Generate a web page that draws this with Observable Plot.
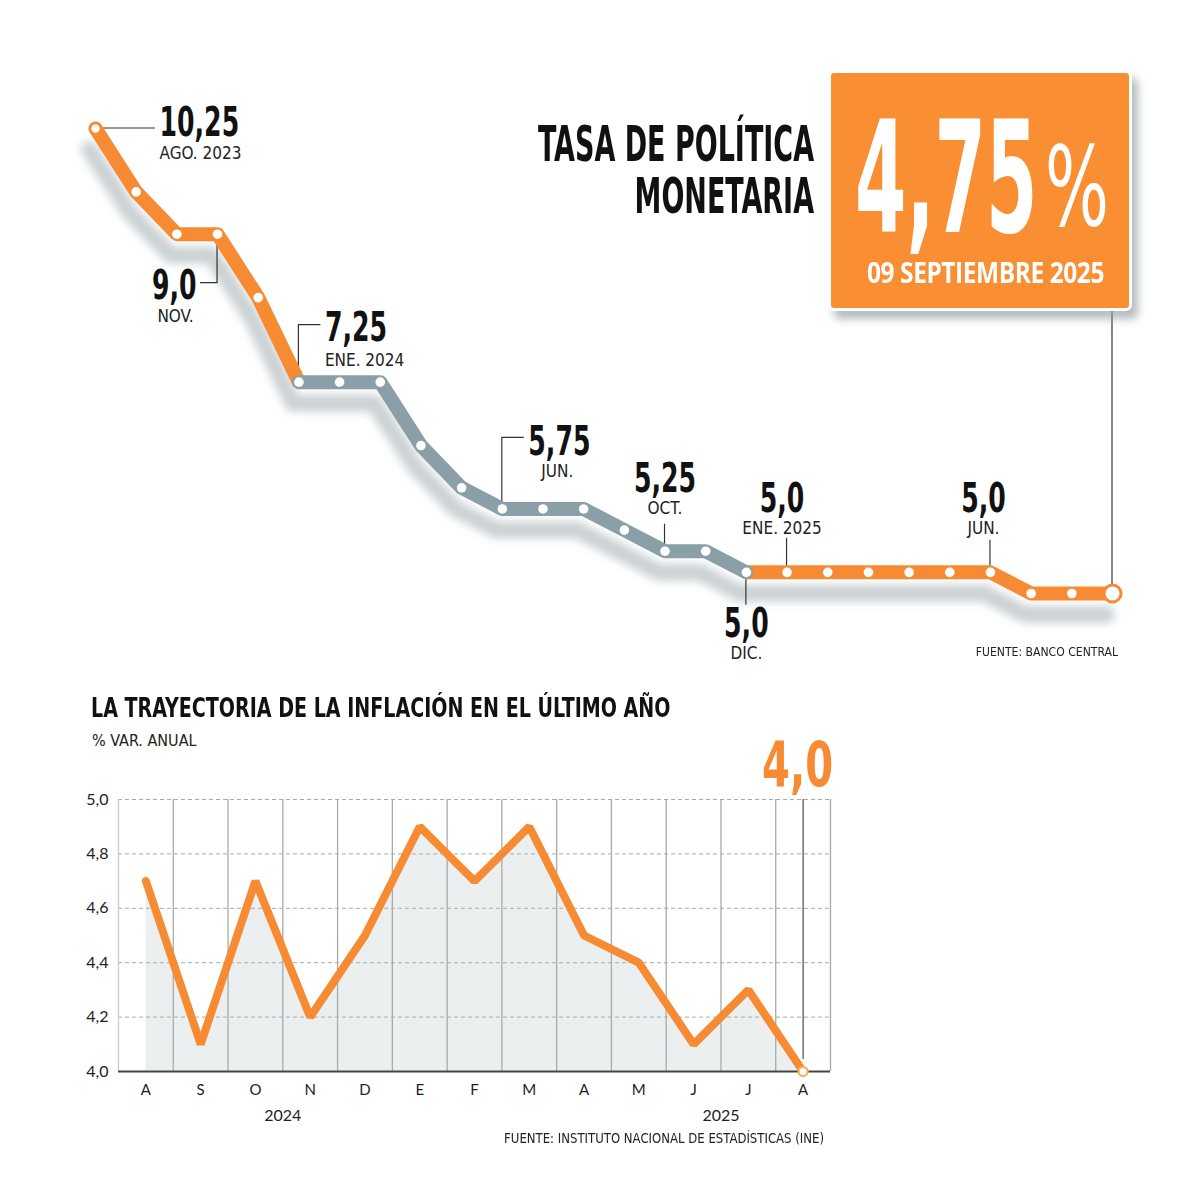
<!DOCTYPE html>
<html><head><meta charset="utf-8">
<script src="https://cdn.jsdelivr.net/npm/d3@7"></script>
<script src="https://cdn.jsdelivr.net/npm/@observablehq/plot@0.6"></script>
<style>
body{margin:0;background:#fff;}
#root{position:relative;width:1200px;height:1182px;overflow:hidden;background:#fff;}
.cond{font-family:"Liberation Sans Narrow","DejaVu Sans Condensed","Roboto Condensed","Liberation Sans",sans-serif;font-stretch:condensed;}
.abs{position:absolute;margin:0;white-space:nowrap;}
.shadow{filter:blur(4px);}
#tpmTitle{right:386px;top:118px;font-weight:bold;font-size:50px;line-height:52px;text-align:right;color:#111;transform:scaleX(0.6);transform-origin:right top;}
#box{left:828px;top:70px;width:298px;height:235px;background:#F98E33;border:3px solid #fff;border-radius:6px;box-shadow:6px 8px 8px rgba(150,160,162,0.7);}
#bigNum{left:855px;top:114px;font-weight:bold;font-size:155px;line-height:130px;color:#fff;transform:scaleX(0.53);transform-origin:left top;}
#pct{left:1045px;top:142px;font-size:110px;line-height:90px;color:#fff;transform:scaleX(0.68);transform-origin:left top;}
#date{left:867px;top:257px;font-weight:bold;font-size:28px;line-height:30px;color:#fff;font-family:"Open Sans",sans-serif;transform:scaleX(0.875);transform-origin:left top;letter-spacing:-0.5px;}
#src1{right:82px;top:644px;font-size:13px;color:#222;transform:scaleX(0.93);transform-origin:right top;}
#inflTitle{left:91px;top:692px;font-weight:bold;font-size:27px;color:#111;transform:scaleX(0.785);transform-origin:left top;}
#inflSub{left:92px;top:731px;font-size:16px;color:#222;}
#infl40{left:762px;top:728px;font-weight:bold;font-size:62px;color:#F68B33;transform:scaleX(0.72);transform-origin:left top;}
#src2{right:376px;top:1130px;font-size:14px;color:#222;transform:scaleX(0.93);transform-origin:right top;}
#topChart,#bottomChart{position:absolute;left:0;}
#topChart{top:0;}
#bottomChart{top:760px;}
</style></head><body><div id="root">
<div id="topChart"></div>
<div id="bottomChart"></div>
<div class="abs cond" id="tpmTitle">TASA DE POLÍTICA<br>MONETARIA</div>
<div class="abs" id="box"></div>
<div class="abs cond" id="bigNum">4,75</div>
<div class="abs cond" id="pct">%</div>
<div class="abs" id="date">09 SEPTIEMBRE 2025</div>
<div class="abs cond" id="src1">FUENTE: BANCO CENTRAL</div>
<div class="abs cond" id="inflTitle">LA TRAYECTORIA DE LA INFLACIÓN EN EL ÚLTIMO AÑO</div>
<div class="abs cond" id="inflSub">% VAR. ANUAL</div>
<div class="abs cond" id="infl40">4,0</div>
<div class="abs cond" id="src2">FUENTE: INSTITUTO NACIONAL DE ESTADÍSTICAS (INE)</div>
</div>
<script>
// ---------- DATA: Tasa de Política Monetaria (meetings Aug 2023 - Sep 2025) ----------
const tpmMeetings = ["Ago23","Sep23","Oct23","Nov23","Dic23","Ene24","Feb24","Mar24","Abr24","May24","Jun24","Jul24","Ago24","Sep24","Oct24","Nov24","Dic24","Ene25","Feb25","Mar25","Abr25","May25","Jun25","Jul25","Ago25","Sep25"];
const tpmValues = [10.25,9.5,9.0,9.0,8.25,7.25,7.25,7.25,6.5,6.0,5.75,5.75,5.75,5.5,5.25,5.25,5.0,5.0,5.0,5.0,5.0,5.0,5.0,4.75,4.75,4.75];
// highlighted phases: [startIndex, endIndex, phase]
const tpmPhases = [[0,5,"hl"],[5,16,"base"],[16,25,"hl"]];
// annotated meetings
const annIndex = [0,3,5,10,14,16,17,22];
const annValue = ["10,25","9,0","7,25","5,75","5,25","5,0","5,0","5,0"];
const annDate  = ["AGO. 2023","NOV.","ENE. 2024","JUN.","OCT.","DIC.","ENE. 2025","JUN."];

// ---------- DATA: Inflación % var. anual (Aug 2024 - Aug 2025) ----------
const inflMonths = ["A","S","O","N","D","E","F","M","A","M","J","J","A"];
const inflValues = [4.7,4.1,4.7,4.2,4.5,4.9,4.7,4.9,4.5,4.4,4.1,4.3,4.0];
const inflYears = ["2024","2025"];
const inflYearPos = [2.5,10.5];
const inflTicks = [4.0,4.2,4.4,4.6,4.8,5.0];

// ---------- STYLE ----------
const ORANGE = "#F68B33", GRAY = "#8A9FA8", SHADOW = "#CBD2D4", INK = "#222";
const COND = '"Liberation Sans Narrow","DejaVu Sans Condensed","Liberation Sans",sans-serif';
// label placement (pixel offsets from each annotated point)
const annLayout = [
  {num:[64,7,"start"], date:[64,30,"start"], path:[[60,0]]},
  {num:[-21,65,"end"], date:[-42,88,"middle"], path:[[0,49],[-17,49]]},
  {num:[26,-41,"start"], date:[26,-16,"start"], path:[[0,-57],[22,-57]]},
  {num:[26,-54,"start"], date:[55,-32,"middle"], path:[[0,-71],[22,-71]]},
  {num:[0,-59,"middle"], date:[0,-37,"middle"], path:[[0,-27]]},
  {num:[0,65,"middle"], date:[0,87,"middle"], path:[[0,33]]},
  {num:[-5,-60,"middle"], date:[-5,-38,"middle"], path:[[0,-34]]},
  {num:[-7,-60,"middle"], date:[-7,-38,"middle"], path:[[0,-32]]}
];

// ---------- TOP CHART ----------
const tpm = tpmValues.map((v,i) => ({i, v, m: tpmMeetings[i]}));
const segs = tpmPhases.flatMap(([a,b,p],k) => tpm.slice(a,b+1).map(d => ({...d, seg:k, phase:p})));
const last = tpm.length - 1;

function leaders(index, {x, y}) {
  const g = d3.create("svg:g").attr("fill","none").attr("stroke","#333").attr("stroke-width",1.2);
  annIndex.forEach((ix,k) => {
    const px = x(ix), py = y(tpmValues[ix]);
    const pts = [[px,py], ...annLayout[k].path.map(([dx,dy]) => [px+dx, py+dy])];
    g.append("path").attr("d", d3.line()(pts));
  });
  // leader from last meeting up to headline box
  g.append("path").attr("d", d3.line()([[x(last), y(tpmValues[last])],[x(last), 308]]));
  return g.node();
}

const annMarks = annIndex.flatMap((ix,k) => {
  const L = annLayout[k];
  const d = [{i: ix, v: tpmValues[ix], n: annValue[k], t: annDate[k]}];
  return [
    Plot.text(d, {x:"i", y:"v", text:"n", dx:L.num[0], dy:L.num[1], textAnchor:L.num[2], lineAnchor:"bottom", fontSize:40, fontWeight:"bold", fill:"#111", fontFamily:COND, className:"bignum"}),
    Plot.text(d, {x:"i", y:"v", text:"t", dx:L.date[0], dy:L.date[1], textAnchor:L.date[2], lineAnchor:"bottom", fontSize:17, fill:INK, fontFamily:COND})
  ];
});

const topPlot = Plot.plot({
  width:1200, height:680,
  marginLeft:95, marginRight:88, marginTop:128, marginBottom:87,
  x:{domain:[0,last], axis:null},
  y:{domain:[4.75,10.25], axis:null},
  style:{background:"transparent", overflow:"visible"},
  marks:[
    Plot.line(tpm, {x:"i", y:"v", stroke:SHADOW, strokeWidth:17, dx:-6, dy:21, className:"shadow"}),
    leaders,
    Plot.line(segs.filter(d=>d.phase==="hl"), {x:"i", y:"v", z:"seg", stroke:ORANGE, strokeWidth:14}),
    Plot.line(segs.filter(d=>d.phase==="base"), {x:"i", y:"v", z:"seg", stroke:GRAY, strokeWidth:14}),
    Plot.dot(tpm.filter(d=>d.i>0 && d.i<last), {x:"i", y:"v", r:4.8, fill:"white"}),
    Plot.dot([tpm[0]], {x:"i", y:"v", r:5.5, fill:"white", stroke:ORANGE, strokeWidth:2.5}),
    Plot.dot([tpm[last]], {x:"i", y:"v", r:8.5, fill:"white", stroke:ORANGE, strokeWidth:3}),
    ...annMarks
  ]
});
document.getElementById("topChart").appendChild(topPlot);

// ---------- BOTTOM CHART ----------
const infl = inflValues.map((v,i) => ({i, v, m: inflMonths[i]}));
const nI = infl.length;
const bottomPlot = Plot.plot({
  width:1200, height:380,
  marginLeft:118, marginRight:370, marginTop:39, marginBottom:69,
  x:{domain:[-0.5, nI-0.5], axis:null},
  y:{domain:[4.0,5.0], axis:null},
  style:{background:"transparent", overflow:"visible"},
  marks:[
    Plot.areaY(infl, {x:"i", y1:4.0, y2:"v", fill:"#ECEFF0"}),
    Plot.ruleY(inflTicks.slice(1), {stroke:"#aaa", strokeDasharray:"4,3", strokeWidth:1}),
    Plot.ruleX(d3.range(nI).map(k=>k+0.5), {y1:4.0, y2:5.0, stroke:"#aaa", strokeWidth:1.3}),
    Plot.ruleX([-0.5], {y1:4.0, y2:5.0, stroke:"#ccc", strokeWidth:1.3}),
    Plot.ruleX([nI-1], {y1:4.0, y2:5.0, stroke:"#555", strokeWidth:1.3, insetTop:-12}),
    Plot.ruleY([4.0], {x1:-0.5, x2:nI-0.5, stroke:"#444", strokeWidth:2}),
    Plot.line(infl, {x:"i", y:"v", stroke:ORANGE, strokeWidth:8, strokeLinejoin:"miter"}),
    Plot.dot([infl[nI-1]], {x:"i", y:"v", r:4.5, fill:"white", stroke:"#F9B158", strokeWidth:2.2}),
    Plot.text(inflTicks, {x:-0.5, y:d=>d, text:d=>d.toFixed(1).replace(".",","), textAnchor:"end", dx:-10, fontSize:16, fill:INK, fontFamily:"Lato, sans-serif"}),
    Plot.text(infl, {x:"i", y:4.0, text:"m", dy:19, fontSize:15, fill:INK, fontFamily:"Lato, sans-serif"}),
    Plot.text(inflYears, {x:(d,k)=>inflYearPos[k], y:4.0, text:d=>d, dy:44, fontSize:16, fill:INK, fontFamily:"Lato, sans-serif"})
  ]
});
document.getElementById("bottomChart").appendChild(bottomPlot);

// condense the big annotation numbers about their anchor point
document.querySelectorAll(".bignum text").forEach(t => {
  const bb = t.getBBox();
  const anchor = getComputedStyle(t).textAnchor || "start";
  const ax = anchor === "end" ? bb.x + bb.width : anchor === "middle" ? bb.x + bb.width/2 : bb.x;
  t.setAttribute("transform", (t.getAttribute("transform")||"") + ` translate(${ax},0) scale(0.7,1) translate(${-ax},0)`);
});
</script>
</body></html>
